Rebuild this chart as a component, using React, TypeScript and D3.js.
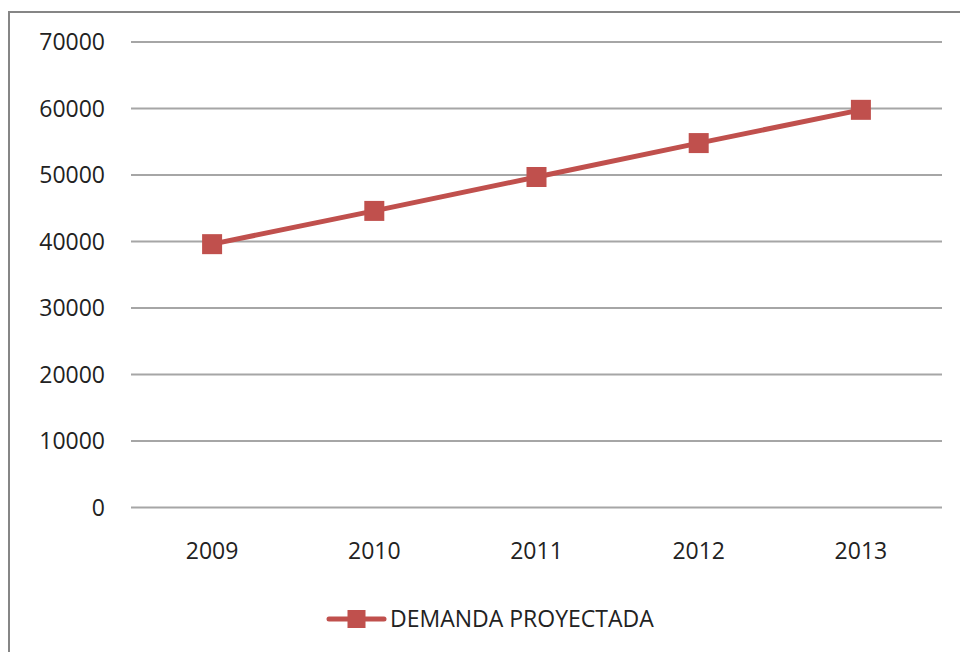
import React from 'react';
import * as d3 from 'd3';

// data
const years = ['2009', '2010', '2011', '2012', '2013'];
const demanda = [39600, 44600, 49700, 54800, 59800];
const yTicks = [0, 10000, 20000, 30000, 40000, 50000, 60000, 70000];
const seriesName = 'DEMANDA PROYECTADA';

const W = 960, H = 652;
const RED = '#C0504D';
const FONT = '"Open Sans", "Liberation Sans", sans-serif';

export default function App() {
  const x = d3.scaleBand<string>().domain(years).range([131, 942]).padding(0);
  const y = d3.scaleLinear().domain([0, 70000]).range([507.5, 42]);

  const line = d3.line<number>()
    .x((_, i) => (x(years[i]) as number) + x.bandwidth() / 2)
    .y(d => y(d));

  const M = 20; // marker size

  return (
    <svg width={W} height={H} viewBox={`0 0 ${W} ${H}`}
      style={{ position: 'absolute', left: 0, top: 0, background: '#fff' }}>
      {/* chart frame */}
      <rect x={9} y={12} width={1000} height={700} fill="#fff" stroke="#868686" strokeWidth={2} />

      {/* gridlines + y labels */}
      {yTicks.map(t => (
        <g key={t}>
          <line x1={131} x2={942} y1={y(t)} y2={y(t)} stroke="#A6A6A6" strokeWidth={2} />
          <text x={105} y={y(t)} dy="0.35em" textAnchor="end" fontFamily={FONT} fontSize={23} fill="#222">
            {t}
          </text>
        </g>
      ))}

      {/* x labels */}
      {years.map(yr => (
        <text key={yr} x={(x(yr) as number) + x.bandwidth() / 2} y={551} dy="0.35em"
          textAnchor="middle" fontFamily={FONT} fontSize={23} fill="#222">
          {yr}
        </text>
      ))}

      {/* series */}
      <path d={line(demanda) || ''} fill="none" stroke={RED} strokeWidth={5} strokeLinejoin="round" />
      {demanda.map((v, i) => {
        const cx = (x(years[i]) as number) + x.bandwidth() / 2;
        return <rect key={i} x={cx - M / 2} y={y(v) - M / 2} width={M} height={M} fill={RED} />;
      })}

      {/* legend */}
      <line x1={329} x2={384} y1={619} y2={619} stroke={RED} strokeWidth={5} strokeLinecap="round" />
      <rect x={356.5 - 9} y={619 - 9} width={18} height={18} fill={RED} />
      <text x={390} y={619} dy="0.35em" fontFamily={FONT} fontSize={23} fill="#222">{seriesName}</text>
    </svg>
  );
}
